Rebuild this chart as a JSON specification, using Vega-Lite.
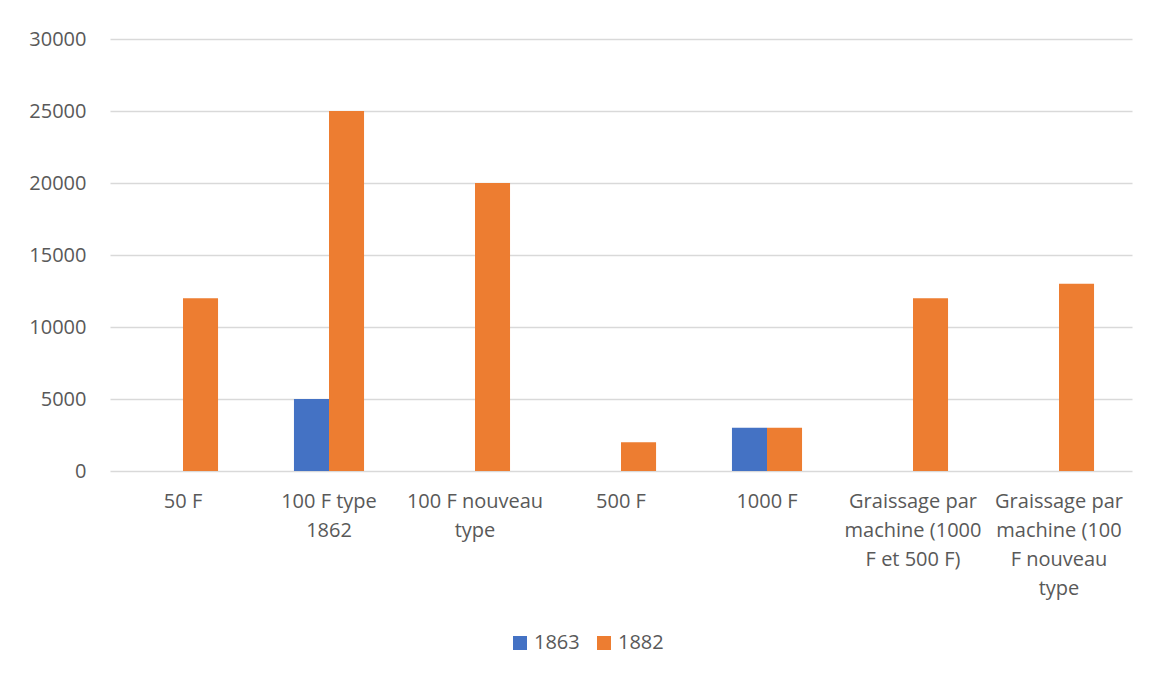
{
  "$schema": "https://vega.github.io/schema/vega-lite/v6.json",
  "autosize": "none",
  "width": 1022,
  "height": 432,
  "padding": {"left": 110, "top": 39, "right": 22, "bottom": 204},
  "background": "white",
  "data": {
    "values": [
      {"category": "50 F", "year": "1863", "value": 0},
      {"category": "50 F", "year": "1882", "value": 12000},
      {"category": "100 F type 1862", "year": "1863", "value": 5000},
      {"category": "100 F type 1862", "year": "1882", "value": 25000},
      {"category": "100 F nouveau type", "year": "1863", "value": 0},
      {"category": "100 F nouveau type", "year": "1882", "value": 20000},
      {"category": "500 F", "year": "1863", "value": 0},
      {"category": "500 F", "year": "1882", "value": 2000},
      {"category": "1000 F", "year": "1863", "value": 3000},
      {"category": "1000 F", "year": "1882", "value": 3000},
      {"category": "Graissage par machine (1000 F et 500 F)", "year": "1863", "value": 0},
      {"category": "Graissage par machine (1000 F et 500 F)", "year": "1882", "value": 12000},
      {"category": "Graissage par machine (100 F nouveau type", "year": "1863", "value": 0},
      {"category": "Graissage par machine (100 F nouveau type", "year": "1882", "value": 13000}
    ]
  },
  "mark": {"type": "bar"},
  "encoding": {
    "x": {
      "field": "category",
      "type": "nominal",
      "sort": null,
      "title": null,
      "scale": {"paddingInner": 0.52, "paddingOuter": 0.26},
      "axis": {
        "labelAngle": 0,
        "ticks": false,
        "domain": false,
        "labelPadding": 20,
        "labelBaseline": "top",
        "labelLineHeight": 29,
        "labelLimit": 200,
        "labelExpr": "datum.value == '100 F type 1862' ? ['100 F type', '1862'] : datum.value == '100 F nouveau type' ? ['100 F nouveau', 'type'] : datum.value == 'Graissage par machine (1000 F et 500 F)' ? ['Graissage par', 'machine (1000', 'F et 500 F)'] : datum.value == 'Graissage par machine (100 F nouveau type' ? ['Graissage par', 'machine (100', 'F nouveau', 'type'] : datum.value"
      }
    },
    "xOffset": {"field": "year", "type": "nominal"},
    "y": {
      "field": "value",
      "type": "quantitative",
      "title": null,
      "scale": {"domain": [0, 30000], "nice": false},
      "axis": {
        "values": [0, 5000, 10000, 15000, 20000, 25000, 30000],
        "format": "d",
        "ticks": false,
        "domain": false,
        "labelPadding": 24,
        "gridColor": "#d9d9d9",
        "gridWidth": 1.3
      }
    },
    "color": {
      "field": "year",
      "type": "nominal",
      "title": null,
      "scale": {"domain": ["1863", "1882"], "range": ["#4472C4", "#ED7D31"]},
      "legend": {
        "orient": "none",
        "direction": "horizontal",
        "legendX": 400,
        "legendY": 594,
        "symbolType": "square",
        "symbolSize": 196,
        "symbolStrokeWidth": 0,
        "labelOffset": 4,
        "columnPadding": 14
      }
    }
  },
  "config": {
    "view": {"stroke": null},
    "font": "Open Sans",
    "axis": {"labelFont": "Open Sans", "labelFontSize": 20, "labelColor": "#595959", "grid": true},
    "axisX": {"grid": false},
    "legend": {"labelFont": "Open Sans", "labelFontSize": 20, "labelColor": "#595959"}
  }
}
